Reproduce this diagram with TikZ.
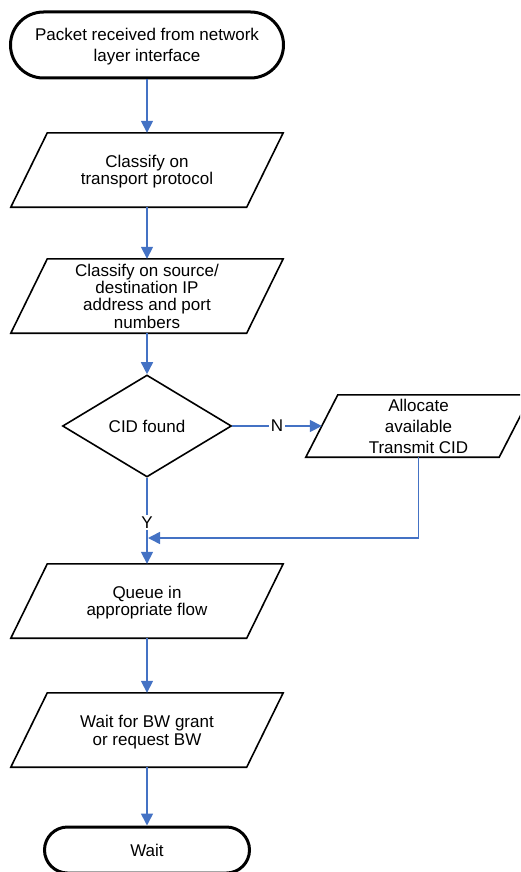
\documentclass[tikz,border=0pt]{standalone}
\usepackage{fontspec}
\setmainfont{Liberation Sans}
\usetikzlibrary{shapes.geometric,arrows.meta,calc}
\definecolor{flowblue}{RGB}{68,114,196}
\begin{document}
\begin{tikzpicture}[x=1pt,y=-1pt,
  every node/.style={align=center, inner sep=0pt},
  lh/.style={font=\fontsize{17}{#1}\selectfont},
  terminal/.style={draw=black, line width=3pt, rectangle, rounded corners=#1},
  iobox/.style={minimum width=272pt, minimum height=74pt, text depth=0pt},
  outline/.style={draw=black, line width=1.6pt, line join=miter},
  decision/.style={diamond, draw=black, line width=1.6pt, minimum width=169pt, minimum height=102pt},
  flow/.style={draw=flowblue, line width=1.6pt, -{Triangle[length=12pt,width=12pt]}},
  tag/.style={fill=white, inner sep=2pt, lh=17}
]
\useasboundingbox (0,0) rectangle (520,872);
\clip (0,0) rectangle (520,872);

% start / end terminals
\node[terminal=33pt, minimum width=273pt, minimum height=66pt, lh=21, text depth=0pt] (top) at (147,45)
  {Packet received from network\\layer interface};
\node[terminal=23pt, minimum width=205pt, minimum height=46pt, lh=17] (wt) at (147,850) {Wait};

% processing steps (parallelogram frames drawn below)
\node[iobox, lh=16.7] (c1) at (147,170) {Classify on\\transport protocol};
\node[iobox, lh=17.3] (c2) at (147,296) {Classify on source/\\destination IP\\address and port\\numbers};
\node[iobox, lh=17.5] (qu) at (147,601) {Queue in\\appropriate flow};
\node[iobox, lh=17.7] (bw) at (147,730) {Wait for BW grant\\or request BW};
\node[minimum width=225pt, minimum height=62pt, lh=21, text depth=0pt] (al) at (418.5,426)
  {Allocate\\available\\Transmit CID};

\foreach \n/\s in {c1/36.5,c2/36.5,qu/36.5,bw/36.5,al/32}
  \draw[outline] (\n.south west) -- ($(\n.north west)+(\s,0)$) -- (\n.north east)
    -- ($(\n.south east)+(-\s,0)$) -- cycle;

% decision
\node[decision, lh=17] (d) at (147,426) {CID found};

\coordinate (merge) at (148,538);

% connectors
\draw[flow] (top.south) -- (c1.north);
\draw[flow] (c1.south) -- (c2.north);
\draw[flow] (c2.south) -- (d.north);
\draw[flow] (d.east) -- node[tag] {N} ($(al.west)+(16,0)$);
\draw[flow] (d.south) -- node[tag, pos=0.52] {Y} (qu.north);
\draw[flow] (al.south) |- (merge);
\draw[flow] (qu.south) -- (bw.north);
\draw[flow] (bw.south) -- (wt.north);
\end{tikzpicture}
\end{document}
